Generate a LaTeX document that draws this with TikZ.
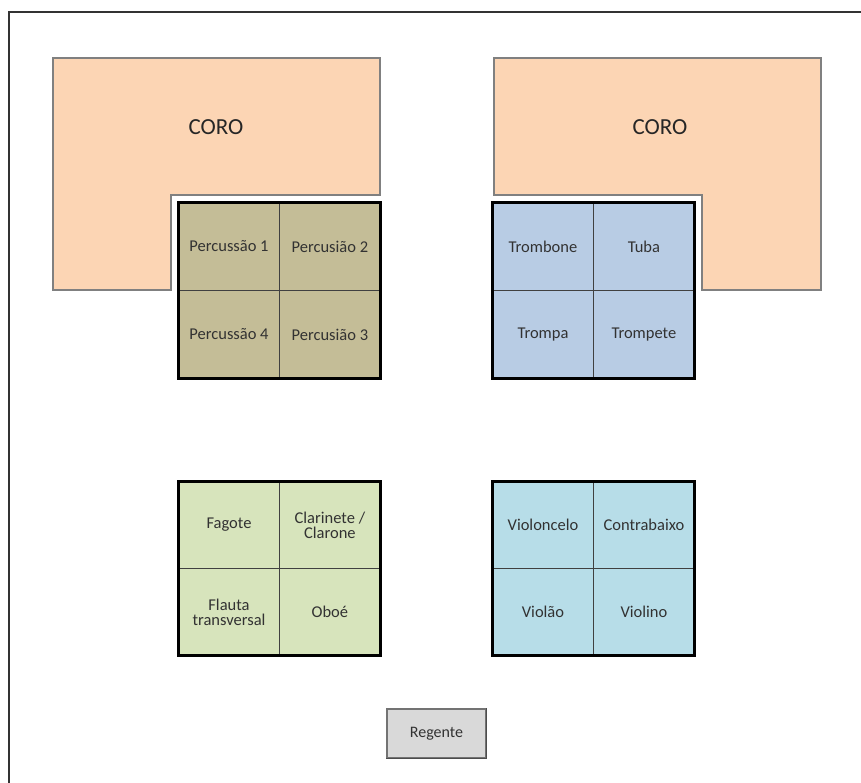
\documentclass[tikz,border=0pt]{standalone}
\usepackage{fontspec}
\setmainfont{Carlito}
\usepackage{tikz}
\usetikzlibrary{positioning}

\definecolor{coro}{RGB}{252,213,180}
\definecolor{perc}{RGB}{196,189,151}
\definecolor{metal}{RGB}{184,204,228}
\definecolor{madeira}{RGB}{215,228,188}
\definecolor{cordas}{RGB}{183,221,232}
\definecolor{regente}{RGB}{217,217,217}
\definecolor{txt}{RGB}{50,50,50}

\tikzset{
  cell/.style={draw=black!75, line width=0.9pt, minimum width=100pt, minimum height=87pt,
               inner sep=0pt, align=center, text=txt,
               font=\fontsize{16.5}{15}\selectfont},
  gridframe/.style={draw=black, line width=2.4pt},
  corofill/.style={fill=coro, draw=black!50, line width=1.2pt},
}

\begin{document}
\begin{tikzpicture}[x=1pt, y=-1pt]

\useasboundingbox (0,0) rectangle (861,783);

%% ===================== page frame =====================
\draw[line width=1.4pt, black!80] (9,783) -- (9,12) -- (861,12);

%% ===================== choir (L-shapes) =====================
\draw[corofill] (53,58) -- (380,58) -- (380,195) -- (171,195) -- (171,290) -- (53,290) -- cycle;
\draw[corofill] (494,58) -- (821,58) -- (821,290) -- (702,290) -- (702,195) -- (494,195) -- cycle;
\node[text=black!85, font=\fontsize{23}{24}\selectfont] (coroL) at (216,127) {CORO};
\node[text=black!85, font=\fontsize{23}{24}\selectfont] (coroR) at (660,127) {CORO};

%% ===================== percussion =====================
\node[cell, fill=perc] (perc1) at (229,246.5) {Percussão 1};
\node[cell, fill=perc, right=0pt of perc1] (perc2) {Percusião 2};
\node[cell, fill=perc, below=0pt of perc1] (perc4) {Percussão 4};
\node[cell, fill=perc, right=0pt of perc4] (perc3) {Percusião 3};
\draw[gridframe] (perc1.north west) rectangle (perc3.south east);

%% ===================== brass =====================
\node[cell, fill=metal] (trombone) at (543,246.5) {Trombone};
\node[cell, fill=metal, right=0pt of trombone] (tuba) {Tuba};
\node[cell, fill=metal, below=0pt of trombone] (trompa) {Trompa};
\node[cell, fill=metal, right=0pt of trompa] (trompete) {Trompete};
\draw[gridframe] (trombone.north west) rectangle (trompete.south east);

%% ===================== woodwinds =====================
\node[cell, fill=madeira, minimum height=86pt] (fagote) at (229,525) {Fagote};
\node[cell, fill=madeira, minimum height=86pt, right=0pt of fagote] (clarinete) {Clarinete /\\Clarone};
\node[cell, fill=madeira, minimum height=86pt, below=0pt of fagote] (flauta) {Flauta\\transversal};
\node[cell, fill=madeira, minimum height=86pt, right=0pt of flauta] (oboe) {Oboé};
\draw[gridframe] (fagote.north west) rectangle (oboe.south east);

%% ===================== strings =====================
\node[cell, fill=cordas, minimum height=86pt] (violoncelo) at (543,525) {Violoncelo};
\node[cell, fill=cordas, minimum height=86pt, right=0pt of violoncelo] (contrabaixo) {Contrabaixo};
\node[cell, fill=cordas, minimum height=86pt, below=0pt of violoncelo] (violao) {Violão};
\node[cell, fill=cordas, minimum height=86pt, right=0pt of violao] (violino) {Violino};
\draw[gridframe] (violoncelo.north west) rectangle (violino.south east);

%% ===================== conductor =====================
\node[draw=black!55, line width=1.2pt, fill=regente, minimum width=99pt, minimum height=49pt,
      inner sep=0pt, text=txt, font=\fontsize{16}{15}\selectfont] (reg) at (436.5,733.5) {Regente};
\draw[black!70, line width=1.4pt] (reg.south west) -- (reg.south east) -- (reg.north east);

\end{tikzpicture}
\end{document}
